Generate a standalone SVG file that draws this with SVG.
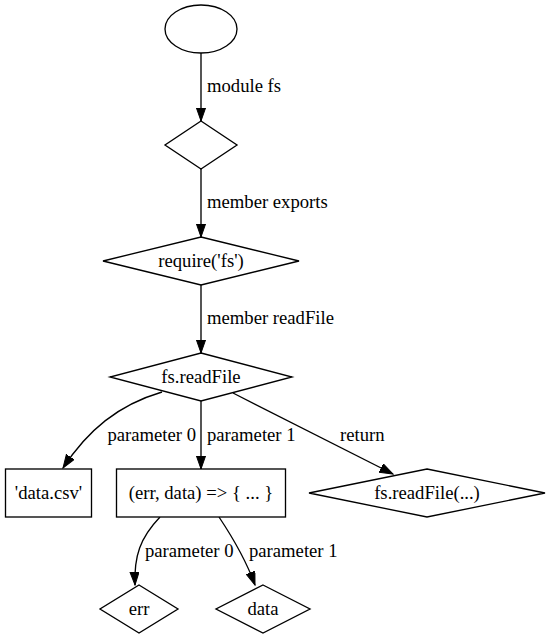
<svg xmlns="http://www.w3.org/2000/svg" width="548" height="639" viewBox="0 0 548 639" font-family="'Liberation Serif', 'DejaVu Serif', serif" font-size="18.67">
<style>
.n{fill:#fff;stroke:#000;stroke-width:1.33}
.e{fill:none;stroke:#000;stroke-width:1.33}
.c{text-anchor:middle}
.r{text-anchor:end}
</style>
<defs>
<marker id="ah" markerUnits="userSpaceOnUse" markerWidth="14" markerHeight="10" refX="13.3" refY="4.67" orient="auto">
<path d="M0,0 L13.3,4.67 L0,9.33 z" fill="#000" stroke="#000" stroke-width="1"/>
</marker>
</defs>
<rect width="548" height="639" fill="#fff"/>
<g id="edges">
<path class="e" d="M201,53 L201,121" marker-end="url(#ah)"/>
<text x="207" y="92">module fs</text>
<path class="e" d="M201,169 L201,237" marker-end="url(#ah)"/>
<text x="207" y="208">member exports</text>
<path class="e" d="M201,285 L201,353" marker-end="url(#ah)"/>
<text x="207" y="324">member readFile</text>
<path class="e" d="M162,392 C118,405 88,430 63,468" marker-end="url(#ah)"/>
<text class="r" x="196" y="441">parameter 0</text>
<path class="e" d="M201,401 L201,469" marker-end="url(#ah)"/>
<text x="207" y="441">parameter 1</text>
<path class="e" d="M233,393 L393,474" marker-end="url(#ah)"/>
<text x="340" y="441">return</text>
<path class="e" d="M160,517 C140,538 134,556 135,585" marker-end="url(#ah)"/>
<text x="145" y="557">parameter 0</text>
<path class="e" d="M219,517 C233,538 246,560 255,585" marker-end="url(#ah)"/>
<text x="249" y="557">parameter 1</text>
</g>
<g id="start"><ellipse class="n" cx="201" cy="29" rx="36" ry="24"/></g>
<g id="module"><polygon class="n" points="201,121 237,145 201,169 165,145"/></g>
<g id="require"><polygon class="n" points="201,237 299,261 201,285 103,261"/><text class="c" x="201" y="267">require('fs')</text></g>
<g id="readFile"><polygon class="n" points="201,353 292,377 201,401 110,377"/><text class="c" x="201" y="383">fs.readFile</text></g>
<g id="datacsv"><rect class="n" x="5.5" y="469" width="86" height="48"/><text class="c" x="48.5" y="499">'data.csv'</text></g>
<g id="callback"><rect class="n" x="116.5" y="469" width="169" height="48"/><text class="c" x="201" y="499">(err, data) =&gt; { ... }</text></g>
<g id="call"><polygon class="n" points="427,469 545,493 427,517 309,493"/><text class="c" x="427" y="499">fs.readFile(...)</text></g>
<g id="err"><polygon class="n" points="139,585 178,609 139,633 100,609"/><text class="c" x="139" y="615">err</text></g>
<g id="data"><polygon class="n" points="263,585 310,609 263,633 216,609"/><text class="c" x="263" y="615">data</text></g>
</svg>
